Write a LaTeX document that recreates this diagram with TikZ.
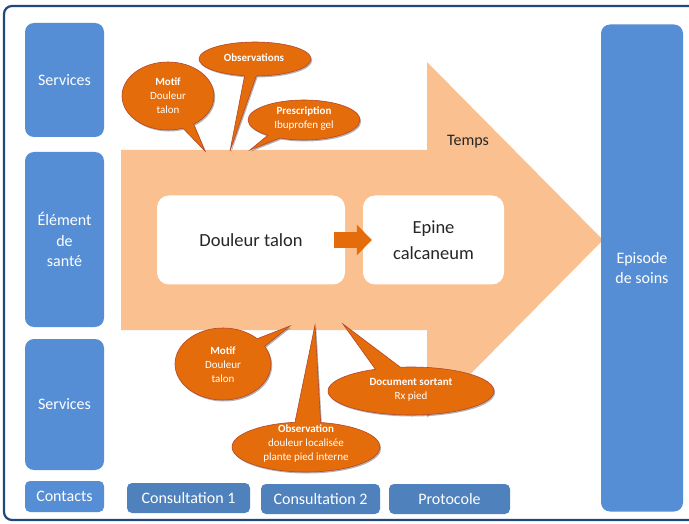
\documentclass[tikz,border=0pt]{standalone}
\usepackage{fontspec}
\setmainfont{Carlito}
\usetikzlibrary{shapes.callouts,shadows,arrows.meta}
\definecolor{blueL}{HTML}{558ED5}
\definecolor{blueD}{HTML}{4F81BD}
\definecolor{navy}{HTML}{1F497D}
\definecolor{arrowbg}{HTML}{FAC08F}
\definecolor{bub}{HTML}{E46C0A}
\definecolor{bubedge}{HTML}{B5472A}
\definecolor{txtdark}{HTML}{262626}
\tikzset{
  lbox/.style={fill=blueL, rounded corners=9pt, text=white, font=\fontsize{16}{20.5}\selectfont, align=center, minimum width=79pt, inner sep=0pt},
  bbox/.style={fill=blueD, rounded corners=5pt, text=white, font=\fontsize{16}{20}\selectfont, align=center, minimum height=30pt, inner sep=0pt},
  wbox/.style={fill=white, rounded corners=12pt, text=txtdark, font=\fontsize{18.5}{26}\selectfont, align=center, minimum height=89pt, inner sep=0pt},
  bubble/.style={ellipse callout, fill=bub, draw=bubedge, line width=0.6pt, inner sep=0pt,
     drop shadow={shadow xshift=1.2pt, shadow yshift=-1.5pt, opacity=0.3, fill=black}},
  btext/.style={text=white, font=\fontsize{11}{14}\selectfont, align=center, inner sep=0pt},
  linkarrow/.style={draw=bub, line width=16pt, -{Triangle[length=15pt,width=30pt]}}
}
\begin{document}
\begin{tikzpicture}[x=1pt,y=-1pt]
\useasboundingbox (0,0) rectangle (689,524);
\fill[white] (0,0) rectangle (689,524);
% outer frame
\draw[navy, line width=2.2pt, rounded corners=8pt] (4,6) rectangle (720,520);

% big time arrow
\fill[arrowbg] (121,150) -- (427,150) -- (427,62) -- (603,240) -- (427,418) -- (427,330) -- (121,330) -- cycle;
\node[font=\fontsize{16}{18}\selectfont, text=txtdark, inner sep=0pt] (temps) at (468,142) {Temps};

% left column
\node[lbox, minimum height=114pt] (s1) at (64.5,80) {Services};
\node[lbox, minimum height=175pt] (el) at (64.5,239.5) {Élément\\de\\santé};
\node[lbox, minimum height=131pt] (s2) at (64.5,404.5) {Services};
\node[lbox, minimum height=31pt, rounded corners=5pt] (ct) at (64.5,496.5) {Contacts};

% bottom row
\node[bbox, minimum width=123pt] (c1) at (188.5,498) {Consultation 1};
\node[bbox, minimum width=119pt] (c2) at (320.5,499) {Consultation 2};
\node[bbox, minimum width=121pt] (pr) at (449.5,499) {Protocole};

% right column
\node[lbox, minimum width=82pt, minimum height=487pt] (ep) at (642,268) {Episode\\de soins};

% white boxes
\node[wbox, minimum width=188pt] (db) at (251,240) {Douleur talon};
\node[wbox, minimum width=141pt] (ec) at (433.5,240) {Epine\\calcaneum};
\draw[linkarrow] ([xshift=-11pt]db.east) -- ([xshift=9pt]ec.west);

% pointer targets
\coordinate (pt1) at (205,151);
\coordinate (pt2) at (230,151);
\coordinate (pt3) at (250,150);
\coordinate (pb1) at (290,326);
\coordinate (pb2) at (315,325);
\coordinate (pb3) at (343,324);

% top bubbles
\node[bubble, minimum width=112pt, minimum height=34pt, callout absolute pointer={(pt2)}, callout pointer arc=12] (to) at (255,59) {};
\node[btext] (tot) at (254,58) {\textbf{Observations}};
\node[bubble, minimum width=112pt, minimum height=40pt, callout absolute pointer={(pt3)}] (tp) at (304,120) {};
\node[btext] (tpt) at (304,119) {\textbf{Prescription}\\Ibuprofen gel};
\node[bubble, minimum width=92pt, minimum height=68pt, callout absolute pointer={(pt1)}] (tm) at (168,96) {};
\node[btext] (tmt) at (168,96) {\textbf{Motif}\\Douleur\\talon};

% bottom bubbles
\node[bubble, minimum width=96pt, minimum height=72pt, callout absolute pointer={(pb1)}] (bm) at (223,364) {};
\node[btext] (bmt) at (223,365) {\textbf{Motif}\\Douleur\\talon};
\node[bubble, minimum width=148pt, minimum height=50pt, callout absolute pointer={(pb2)}, callout pointer arc=20] (bo) at (306,447) {};
\node[btext] (bot) at (306,444) {\textbf{Observation}\\douleur localisée\\plante pied interne};
\node[bubble, minimum width=166pt, minimum height=48pt, callout absolute pointer={(pb3)}, callout pointer arc=18] (bd) at (411,391) {};
\node[btext] (bdt) at (411,390) {\textbf{Document sortant}\\Rx pied};
\end{tikzpicture}
\end{document}
